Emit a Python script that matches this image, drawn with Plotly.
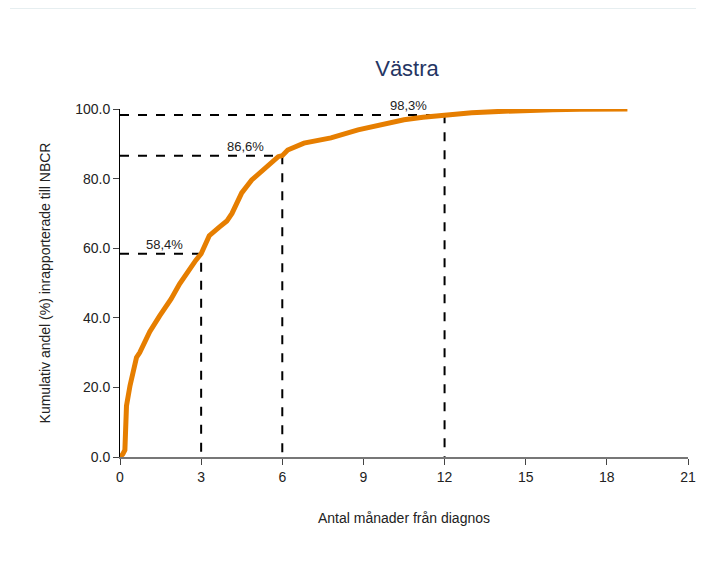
import plotly.graph_objects as go

months = [0, 0.1, 0.18, 0.24, 0.37, 0.48, 0.61, 0.73, 0.9, 1.1, 1.46, 1.89, 2.2, 2.56, 2.8, 3.0,
          3.3, 3.66, 3.95, 4.14, 4.32, 4.5, 4.87, 5.36, 5.85, 6.0, 6.2, 6.8, 7.8, 8.8, 9.9, 10.5,
          11.2, 12.0, 13.0, 14.0, 15.0, 16.0, 17.0, 18.0, 18.76]
cum_pct = [0, 0.8, 2, 14.7, 20.5, 25, 28.6, 30, 33, 36, 40.5, 45.4, 49.7, 54, 56.5, 58.4,
           63.6, 66, 67.8, 70, 73, 75.9, 79.6, 83, 86.3, 86.6, 88.2, 90.2, 91.7, 94, 96, 96.9,
           97.6, 98.3, 98.9, 99.3, 99.7, 99.8, 99.9, 100, 100]

marker_months = [3, 6, 12]
marker_pct = [58.4, 86.6, 98.3]
marker_labels = ["58,4%", "86,6%", "98,3%"]

x_ticks = [0, 3, 6, 9, 12, 15, 18, 21]
y_ticks = [0, 20, 40, 60, 80, 100]

W, H = 704, 540
L, R, T, B = 112, 24, 101, 91
PW, PH = W - L - R, H - T - B

fig = go.Figure()

for m, p in zip(marker_months, marker_pct):
    fig.add_trace(go.Scatter(x=[0, m, m], y=[p, p, 0], mode="lines",
                             line=dict(color="black", width=2, dash="dash"),
                             hoverinfo="skip", showlegend=False))

fig.add_trace(go.Scatter(x=months, y=cum_pct, mode="lines",
                         line=dict(color="#E67E00", width=5),
                         showlegend=False))

for m, p, lab in zip(marker_months, marker_pct, marker_labels):
    fig.add_annotation(x=m - 1.35, y=p, text=lab, showarrow=False,
                       yanchor="bottom", yshift=0,
                       font=dict(size=13, color="#222222"))

fig.add_shape(type="line", xref="paper", yref="paper",
              x0=(2 - L) / PW, x1=(W - L) / PW,
              y0=(T + PH - 0.5) / PH, y1=(T + PH - 0.5) / PH,
              line=dict(color="#E6EEF0", width=1))

fig.update_layout(
    width=W, height=H,
    margin=dict(l=L, r=R, t=T, b=B),
    paper_bgcolor="white", plot_bgcolor="white",
    font=dict(family="Liberation Sans, Arial, sans-serif", size=14, color="#222222"),
    title=dict(text="Västra", x=399 / W, xanchor="center",
               y=1 - 60 / H, yanchor="middle", yref="container",
               font=dict(size=22, color="#253563")),
    xaxis=dict(range=[0, 21], tickvals=x_ticks, showgrid=False, zeroline=False,
               showline=True, linecolor="#777777", linewidth=1.5, automargin=False,
               ticks="outside", ticklen=6, tickcolor="#444444", ticklabeloverflow="allow",
               title=dict(text="Antal månader från diagnos", font=dict(size=14), standoff=30)),
    yaxis=dict(range=[0, 100], tickvals=y_ticks, tickformat=".1f", showgrid=False,
               zeroline=False, showline=True, linecolor="black", linewidth=1, automargin=False,
               ticks="outside", ticklen=6, tickcolor="#444444",
               title=dict(text="Kumulativ andel (%) inrapporterade till NBCR", font=dict(size=14), standoff=21)),
)

fig.write_html("out.html")
